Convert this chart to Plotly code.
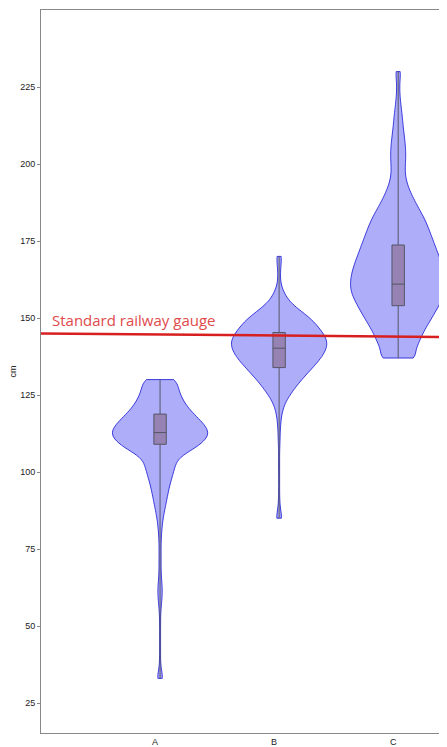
import numpy as np
import plotly.graph_objects as go

CATEGORIES = ["A", "B", "C"]
Y_TICKS = [25, 50, 75, 100, 125, 150, 175, 200, 225]

A_VALUES = [33, 35, 37.5, 40, 42.5, 45, 47.5, 50, 52.5, 55, 57.5, 60, 62.5, 65, 67.5, 70,
            72.5, 75, 77.5, 80, 82.5, 85, 87.5, 90, 92.5, 95, 97.5, 100, 102.5, 105, 107.5,
            110, 112.5, 115, 117.5, 120, 122.5, 125, 127.5, 130]
A_COUNTS = [14, 5, 2, 2, 2, 2, 2, 2, 2, 3, 6, 9, 9, 6, 4, 4,
            4, 4, 4, 6, 8, 12, 18, 24, 30, 36, 44, 54, 60, 72, 136,
            176, 200, 180, 150, 118, 96, 80, 70, 72]

B_VALUES = [85, 87.5, 90, 92.5, 95, 97.5, 100, 102.5, 105, 107.5, 110, 112.5, 115, 117.5,
            120, 122.5, 125, 127.5, 130, 132.5, 135, 137.5, 140, 142.5, 145, 147.5, 150,
            152.5, 155, 157.5, 160, 162.5, 165, 167.5, 170]
B_COUNTS = [16, 5, 3, 2, 2, 2, 2, 2, 2, 2, 4, 4, 6, 8,
            14, 24, 44, 66, 92, 120, 150, 176, 194, 200, 180, 156, 128,
            84, 44, 24, 10, 4, 6, 7, 13]

C_VALUES = [137, 140, 142.5, 145, 147.5, 150, 152.5, 155, 157.5, 160, 162.5, 165, 167.5,
            170, 172.5, 175, 177.5, 180, 182.5, 185, 187.5, 190, 192.5, 195, 197.5, 200,
            202.5, 205, 207.5, 210, 212.5, 215, 217.5, 220, 222.5, 225, 227.5, 230]
C_COUNTS = [98, 76, 88, 102, 120, 140, 158, 176, 192, 200, 198, 192, 182,
            170, 158, 146, 134, 122, 108, 90, 72, 56, 42, 32, 28, 30,
            32, 31, 28, 24, 20, 18, 14, 10, 7, 6, 7, 13]

# Box statistics
Q1 = [109.0, 133.9, 154.0]
MEDIAN = [112.8, 140.2, 161.0]
Q3 = [118.8, 145.3, 173.7]
LOWER = [33, 85, 137]
UPPER = [130, 170, 230]

GAUGE_LABEL = "Standard railway gauge"
GAUGE_START = 145.0
GAUGE_END = 143.8


def expand(values, counts):
    return np.repeat(np.array(values, dtype=float), np.array(counts, dtype=int))


fig = go.Figure()
for cat, vals, cnts in zip(CATEGORIES, [A_VALUES, B_VALUES, C_VALUES],
                           [A_COUNTS, B_COUNTS, C_COUNTS]):
    y = expand(vals, cnts)
    fig.add_trace(go.Violin(
        x=[cat] * len(y), y=y, width=0.8, bandwidth=2, spanmode="hard",
        scalemode="width", points=False, box_visible=False, meanline_visible=False,
        fillcolor="rgba(0,0,235,0.32)", line=dict(color="rgba(40,40,215,0.9)", width=1),
        showlegend=False, hoverinfo="skip"))

fig.add_trace(go.Box(
    x=CATEGORIES, q1=Q1, median=MEDIAN, q3=Q3, lowerfence=LOWER, upperfence=UPPER,
    width=0.104, whiskerwidth=0, boxpoints=False,
    fillcolor="rgba(128,90,110,0.5)", line=dict(color="#555566", width=1),
    showlegend=False, hoverinfo="skip"))

fig.add_shape(type="line", xref="paper", x0=0, x1=1, yref="y",
              y0=GAUGE_START, y1=GAUGE_END, line=dict(color="#d81f1f", width=2.5))

fig.add_annotation(text=GAUGE_LABEL, xref="paper", x=0.022, xanchor="left",
                   yref="y", y=GAUGE_START, yanchor="bottom", yshift=1, showarrow=False,
                   font=dict(family="Open Sans", size=15, color="#e04a4a"))

fig.update_layout(
    width=439, height=739,
    margin=dict(l=33, r=0, t=2, b=14, autoexpand=False),
    paper_bgcolor="white", plot_bgcolor="white",
    showlegend=False, violinmode="overlay", boxmode="overlay",
    xaxis=dict(type="category", categoryorder="array", categoryarray=CATEGORIES,
               range=[-1, 2.41], showline=True, linecolor="#888888", linewidth=1,
               mirror=True, ticks="", showgrid=False, zeroline=False,
               automargin=False, ticklabelshift=-5,
               tickfont=dict(family="Liberation Sans", size=9, color="#222222")),
    yaxis=dict(range=[15.26, 250], tickvals=Y_TICKS, ticks="outside", ticklen=3,
               tickcolor="#888888", showline=True, linecolor="#888888", linewidth=1,
               showgrid=False, zeroline=False, automargin=False,
               tickfont=dict(family="Liberation Sans", size=9, color="#222222"),
               title=dict(text="cm", font=dict(family="Liberation Sans", size=9,
                                                color="#222222"))),
)

fig.write_html("out.html")
